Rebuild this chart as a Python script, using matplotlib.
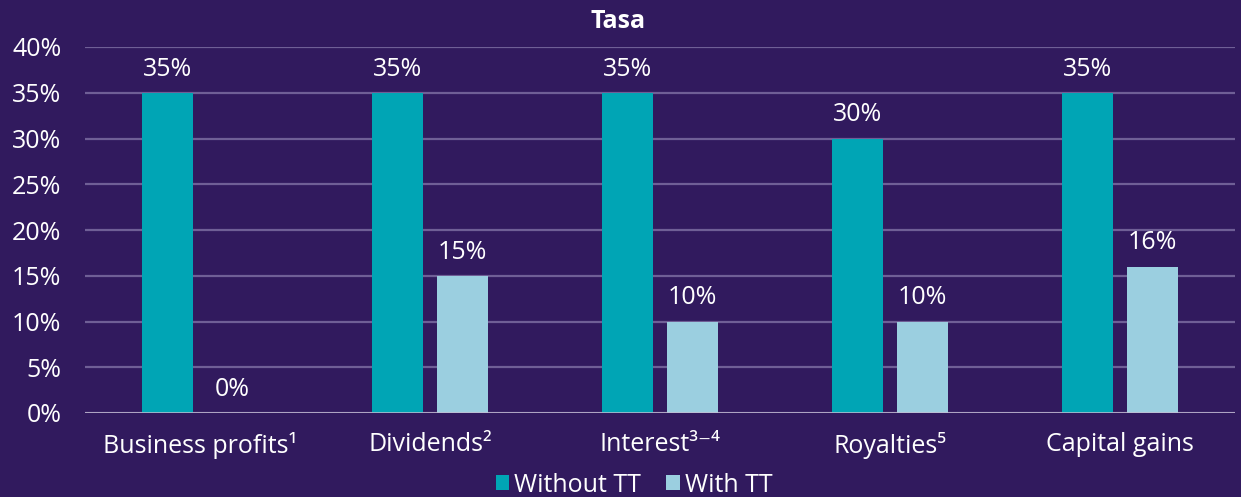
import matplotlib
matplotlib.use("Agg")
import matplotlib.pyplot as plt
from matplotlib.ticker import FuncFormatter, MultipleLocator
from matplotlib.patches import Patch
import numpy as np

categories = ["Business profits\u00b9", "Dividends\u00b2", "Interest\u00b3\u207b\u2074", "Royalties\u2075", "Capital gains"]
without_tt = [35, 35, 35, 30, 35]
with_tt = [0, 15, 10, 10, 16]
series_names = ["Without TT", "With TT"]
title = "Tasa"

BG = "#311A5E"
TEAL = "#00A5B5"
LIGHT = "#9BCFE0"
GRID = "#6F5F96"

plt.rcParams['font.family'] = ['Open Sans', 'DejaVu Sans']

fig = plt.figure(figsize=(12.41, 4.97), dpi=100, facecolor=BG)
ax = fig.add_axes([85/1241, 1-413/497, 1150/1241, 366/497])
ax.set_facecolor(BG)

x = np.arange(len(categories))
w = 0.2217
off = 0.1413
b1 = ax.bar(x - off, without_tt, w, color=TEAL, zorder=3)
b2 = ax.bar(x + off, with_tt, w, color=LIGHT, zorder=3)

for bars, vals in ((b1, without_tt), (b2, with_tt)):
    for r, v in zip(bars, vals):
        ax.annotate(f"{v}%", (r.get_x() + r.get_width()/2, v), xytext=(0, 8),
                    textcoords="offset points", ha="center", va="bottom",
                    color="white", fontsize=18)

ax.set_xlim(-0.5, len(categories) - 0.5)
ax.set_ylim(0, 40)
ax.yaxis.set_major_locator(MultipleLocator(5))
ax.yaxis.set_major_formatter(FuncFormatter(lambda v, p: f"{int(v)}%"))
ax.set_xticks(x)
ax.set_xticklabels(categories)
ax.tick_params(axis="both", length=0, colors="white", labelsize=18)
ax.tick_params(axis="x", pad=14)
ax.tick_params(axis="y", pad=17)
ax.grid(axis="y", color=GRID, linewidth=1.6, zorder=0)
for s in ax.spines.values():
    s.set_visible(False)
ax.axhline(0, color="#C4BCD2", linewidth=1.8, zorder=4)

fig.text(618/1241, 1-22/497, title, ha="center", va="center", color="white",
         fontsize=18, fontweight="bold")

handles = [Patch(facecolor=TEAL, label=series_names[0]), Patch(facecolor=LIGHT, label=series_names[1])]
leg = fig.legend(handles=handles, loc="center", bbox_to_anchor=(634/1241, 1-485/497), ncol=2,
                 frameon=False, fontsize=18, handlelength=0.55, handleheight=0.55,
                 handletextpad=0.2, columnspacing=1.0, labelcolor="white")

fig.savefig("out.png", dpi=100, facecolor=BG)
